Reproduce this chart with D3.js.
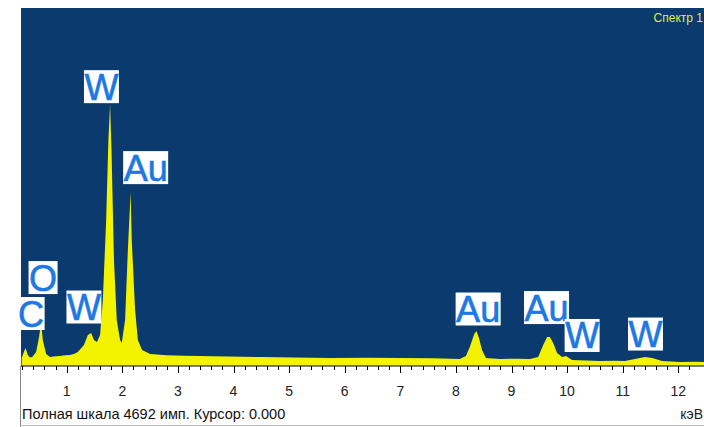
<!DOCTYPE html>
<html>
<head>
<meta charset="utf-8">
<script src="https://cdn.jsdelivr.net/npm/d3@7"></script>
<style>
  body { margin: 0; background: #fff; }
  svg { display: block; font-family: "Liberation Sans", Arial, sans-serif; }
</style>
</head>
<body>
<div id="wrapper"></div>
<script>
// spectrum: energy (keV) and counts
const energies = [0.19, 0.23, 0.26, 0.30, 0.34, 0.38, 0.45, 0.50, 0.54, 0.57, 0.63, 0.70, 0.80, 0.88, 0.97, 1.06, 1.14, 1.20,
  1.31, 1.38, 1.44, 1.49, 1.545, 1.60, 1.65, 1.71, 1.75, 1.78, 1.806, 1.85, 1.90, 1.96, 1.99, 2.05, 2.10, 2.15, 2.17, 2.23,
  2.28, 2.355, 2.50, 2.80, 3.10, 3.40, 3.90, 4.48, 5.10, 5.74, 6.40, 7.00, 7.60, 8.07, 8.18, 8.25, 8.33, 8.37, 8.415, 8.47,
  8.54, 8.79, 9.10, 9.33, 9.48, 9.57, 9.64, 9.69, 9.75, 9.82, 9.91, 9.98, 10.09, 10.35, 10.59, 10.85, 11.04, 11.22, 11.40,
  11.53, 11.71, 12.03, 12.30, 12.47];
const counts = [105, 183, 236, 144, 110, 118, 183, 367, 563, 341, 157, 118, 128, 131, 140, 144, 160, 183,
  275, 406, 432, 341, 314, 406, 865, 1913, 2961, 3432, 2830, 1389, 603, 341, 301, 603, 1520, 2279, 1651, 734,
  341, 210, 157, 140, 135, 131, 125, 118, 112, 105, 108, 105, 100, 92, 131, 249, 419, 459, 367, 210,
  105, 92, 95, 92, 118, 275, 380, 380, 301, 170, 118, 131, 79, 72, 66, 70, 66, 92, 118,
  105, 66, 52, 55, 52];

// peak labels: element, keV and count level of the label centre
const labelText = ["C", "O", "W", "W", "Au", "Au", "Au", "W", "W"];
const labelKeV = [0.36, 0.575, 1.31, 1.625, 2.42, 8.40, 9.63, 10.27, 11.41];
const labelCount = [688, 1159, 773, 3661, 2600, 747, 766, 400, 419];

const xTicks = d3.range(1, 13);
const fullScale = 4692;

const dimensions = {
  width: 704,
  height: 427,
  plot: { left: 21, top: 8, right: 704, bottom: 366 },
};

const svg = d3.select("#wrapper")
  .append("svg")
  .attr("width", dimensions.width)
  .attr("height", dimensions.height);

const xScale = d3.scaleLinear()
  .domain([0, 12])
  .range([11.1, 11.1 + 55.6 * 12]);

const yScale = d3.scaleLinear()
  .domain([0, fullScale])
  .range([dimensions.plot.bottom, dimensions.plot.top]);

// plot background
svg.append("rect")
  .attr("x", dimensions.plot.left)
  .attr("y", dimensions.plot.top)
  .attr("width", dimensions.plot.right - dimensions.plot.left)
  .attr("height", dimensions.plot.bottom - dimensions.plot.top)
  .attr("fill", "#0b3a6f");

svg.append("defs").append("clipPath").attr("id", "clip")
  .append("rect")
  .attr("x", dimensions.plot.left)
  .attr("y", dimensions.plot.top)
  .attr("width", dimensions.plot.right - dimensions.plot.left)
  .attr("height", dimensions.plot.bottom - dimensions.plot.top);

const data = energies.map((e, i) => ({ e, c: counts[i] }));

const area = d3.area()
  .x(d => xScale(d.e))
  .y0(yScale(0))
  .y1(d => yScale(d.c));

svg.append("path")
  .attr("clip-path", "url(#clip)")
  .attr("d", area(data))
  .attr("fill", "#f3f300");

// "Spectrum 1" title
svg.append("text")
  .attr("x", 703)
  .attr("y", 22)
  .attr("text-anchor", "end")
  .attr("font-size", 12)
  .attr("fill", "#dcf040")
  .text("Спектр 1");

// peak labels
labelText.forEach((t, i) => {
  const g = svg.append("g")
    .attr("transform", `translate(${xScale(labelKeV[i])},${yScale(labelCount[i])})`);
  const rect = g.append("rect").attr("fill", "#fff");
  const txt = g.append("text")
    .attr("text-anchor", "middle")
    .attr("y", 13)
    .attr("font-size", 36)
    .attr("fill", "#1c78e4")
    .attr("stroke", "#1c78e4")
    .attr("stroke-width", 0.6)
    .text(t);
  const w = txt.node().getComputedTextLength() + 1;
  rect.attr("x", -w / 2).attr("y", -16.5).attr("width", w).attr("height", 33);
});

// axis
const axis = svg.append("g")
  .attr("transform", `translate(0,${dimensions.plot.bottom})`);

axis.append("line")
  .attr("x1", dimensions.plot.left)
  .attr("x2", dimensions.plot.right)
  .attr("stroke", "#000");

const minorTicks = d3.range(1, 63).map(k => k * 0.2).filter(v => xScale(v) > dimensions.plot.left && xScale(v) < 692);
axis.selectAll(".minor")
  .data(minorTicks)
  .join("line")
  .attr("x1", d => Math.round(xScale(d)) + 0.5)
  .attr("x2", d => Math.round(xScale(d)) + 0.5)
  .attr("y1", 0)
  .attr("y2", d => Math.abs(d - Math.round(d)) < 1e-6 ? 7 : 4)
  .attr("stroke", "#000");

axis.selectAll(".tickLabel")
  .data(xTicks)
  .join("text")
  .attr("x", d => xScale(d))
  .attr("y", 30)
  .attr("text-anchor", "middle")
  .attr("font-size", 14)
  .attr("fill", "#222")
  .text(d => d);

// left divider and bottom border of the lower panel
svg.append("line")
  .attr("x1", 20.5).attr("x2", 20.5)
  .attr("y1", dimensions.plot.bottom).attr("y2", 427)
  .attr("stroke", "#888");
svg.append("line")
  .attr("x1", 20).attr("x2", 704)
  .attr("y1", 425.5).attr("y2", 425.5)
  .attr("stroke", "#bbb");

svg.append("text")
  .attr("x", 22)
  .attr("y", 419)
  .attr("font-size", 14.5)
  .attr("fill", "#111")
  .text("Полная шкала " + fullScale + " имп. Курсор: 0.000");

svg.append("text")
  .attr("x", 703)
  .attr("y", 419)
  .attr("text-anchor", "end")
  .attr("font-size", 14)
  .attr("fill", "#222")
  .text("кэВ");
</script>
</body>
</html>
